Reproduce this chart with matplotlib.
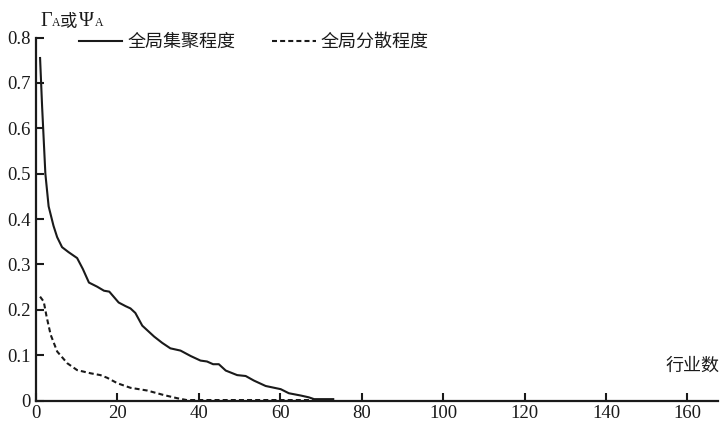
import matplotlib
matplotlib.use("Agg")
import matplotlib.pyplot as plt
from matplotlib.ticker import FixedLocator, FuncFormatter

# Data
agg_x = [1, 1.5, 2.3, 3.1, 4.3, 5.2, 6.4, 8.0, 10.1, 11.5, 13, 15, 16.7, 18, 20.3, 22, 23.2,
         24.4, 26.1, 29, 31, 33, 35.5, 38, 40.4, 42, 43.5, 44.9, 46.6, 49.4, 51.5, 53.5,
         56.4, 60.1, 62.1, 65, 67, 68.3, 73]
agg_y = [0.755, 0.648, 0.50, 0.428, 0.385, 0.36, 0.338, 0.327, 0.314, 0.29, 0.26, 0.251, 0.242,
         0.240, 0.216, 0.208, 0.203, 0.193, 0.165, 0.141, 0.127, 0.115, 0.110, 0.098, 0.088,
         0.086, 0.080, 0.080, 0.066, 0.056, 0.054, 0.044, 0.032, 0.025, 0.016, 0.011, 0.007,
         0.003, 0.003]
dis_x = [1, 1.9, 2.6, 3.6, 5.2, 7.7, 10.1, 13.4, 15.8, 17.5, 20, 23.2, 27.3, 31.4, 34.7, 37, 68]
dis_y = [0.229, 0.218, 0.185, 0.145, 0.108, 0.082, 0.067, 0.060, 0.056, 0.050, 0.038, 0.028,
         0.022, 0.012, 0.005, 0.001, 0.001]

x_ticks = [0, 20, 40, 60, 80, 100, 120, 140, 160]
y_ticks = [0, 0.1, 0.2, 0.3, 0.4, 0.5, 0.6, 0.7, 0.8]
series_labels = ["全局集聚程度", "全局分散程度"]
x_label = "行业数"

cjk = ["Noto Sans CJK SC", "DejaVu Sans"]
serif = ["Liberation Serif", "DejaVu Serif"]
ink = "#1a1a1a"
W, H = 722, 421

fig = plt.figure(figsize=(7.22, 4.21), dpi=100)
ax = fig.add_axes([36 / W, 20.5 / H, (718 - 36) / W, (400.5 - 37.6) / H])

l1, = ax.plot(agg_x, agg_y, color=ink, lw=1.5, solid_joinstyle="round")
l2, = ax.plot(dis_x, dis_y, color=ink, lw=1.5, ls=(0, (2.4, 1.5)))

ax.set_xlim(0, 167.5)
ax.set_ylim(0, 0.8)
for s in ["top", "right"]:
    ax.spines[s].set_visible(False)
for s in ["left", "bottom"]:
    ax.spines[s].set_linewidth(1.6)
    ax.spines[s].set_color(ink)

ax.xaxis.set_major_locator(FixedLocator(x_ticks))
ax.yaxis.set_major_locator(FixedLocator(y_ticks))
ax.yaxis.set_major_formatter(FuncFormatter(lambda v, p: "0" if v == 0 else f"{v:.1f}"))
ax.xaxis.set_major_formatter(FuncFormatter(lambda v, p: f"{int(v)}"))
ax.tick_params(direction="in", length=6, width=1.5, color=ink, labelsize=13.5, labelcolor=ink)
ax.tick_params(axis="x", pad=3)
ax.tick_params(axis="y", pad=4)
for lab in ax.get_xticklabels() + ax.get_yticklabels():
    lab.set_family(serif)

leg = fig.legend([l1, l2], series_labels, loc="center left",
                 bbox_to_anchor=(79 / W, 1 - 42 / H), ncol=2, frameon=False,
                 prop={"family": cjk, "size": 13}, borderpad=0, borderaxespad=0,
                 handlelength=2.4, handletextpad=0.28, columnspacing=2.05)
for t in leg.get_texts():
    t.set_color(ink)

# y-axis title  Γ_A 或 Ψ_A
base = 1 - 26 / H
fig.text(40 / W, base, "Γ", family=serif, fontsize=14.5, va="baseline", ha="left", color=ink)
fig.text(52 / W, base, "A", family=serif, fontsize=8.5, va="baseline", ha="left", color=ink)
fig.text(60 / W, base - 1 / H, "或", family=cjk, fontsize=12.5, va="baseline", ha="left", color=ink)
fig.text(79 / W, base, "Ψ", family=serif, fontsize=14.5, va="baseline", ha="left", color=ink)
fig.text(95 / W, base, "A", family=serif, fontsize=8.5, va="baseline", ha="left", color=ink)

fig.text(720 / W, 1 - 366 / H, x_label, family=cjk, fontsize=13, va="center", ha="right",
         color=ink)

fig.savefig("out.png", dpi=100)
